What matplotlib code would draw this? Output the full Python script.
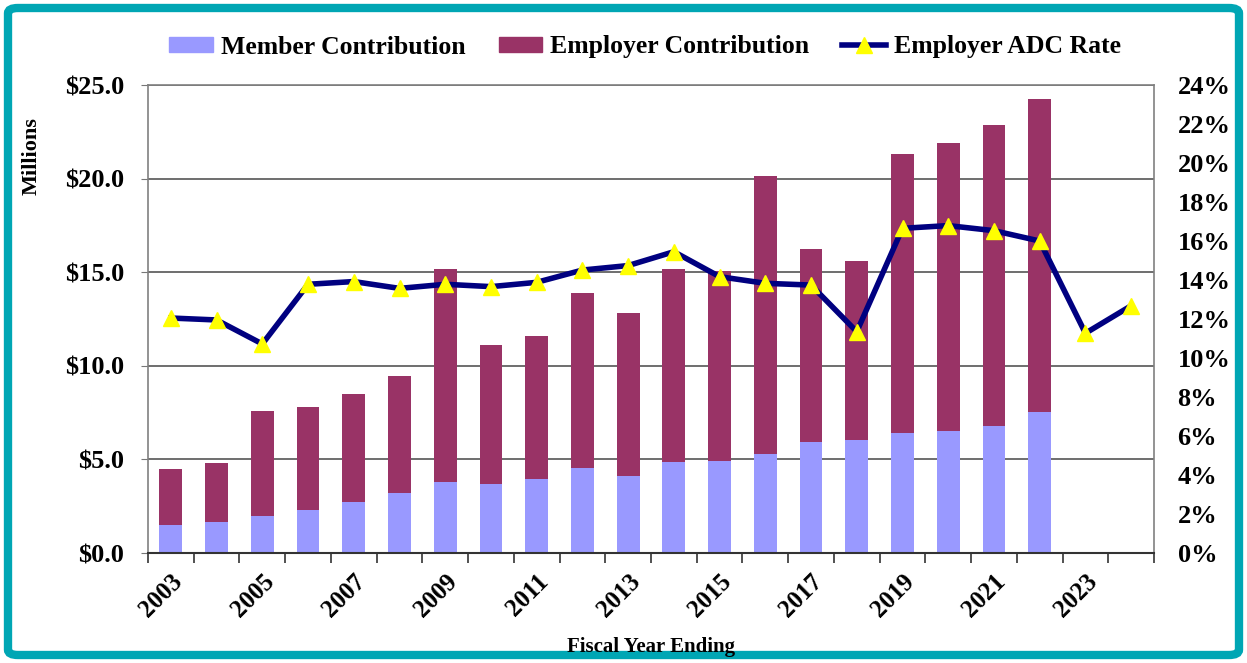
import matplotlib.pyplot as plt
import matplotlib.patches as mpatches
from matplotlib.lines import Line2D
from matplotlib.patches import FancyBboxPatch
from matplotlib.ticker import FixedLocator, FuncFormatter
import numpy as np

# data
years = list(range(2003, 2025))
member = [1.50, 1.66, 1.96, 2.30, 2.74, 3.22, 3.81, 3.69, 3.94, 4.52, 4.11,
          4.86, 4.91, 5.29, 5.91, 6.02, 6.41, 6.52, 6.78, 7.53, None, None]
total = [4.49, 4.82, 7.59, 7.80, 8.49, 9.46, 15.17, 11.11, 11.59, 13.89, 12.82,
         15.17, 15.06, 20.14, 16.24, 15.60, 21.30, 21.90, 22.88, 24.24, None, None]
adc_rate = [12.05, 11.95, 10.72, 13.78, 13.92, 13.57, 13.78, 13.66, 13.88, 14.51, 14.74,
            15.45, 14.17, 13.83, 13.74, 11.35, 16.65, 16.79, 16.53, 16.00, 11.27, 12.68]

member_c = '#9999FF'
employer_c = '#993366'
line_c = '#000080'
teal = '#00A6B4'

plt.rcParams['font.family'] = ['Liberation Serif', 'DejaVu Serif']
plt.rcParams['font.weight'] = 'bold'

fig = plt.figure(figsize=(12.47, 6.63), dpi=100)
ax = fig.add_axes([148 / 1247, 1 - 553 / 663, (1154 - 148) / 1247, (553 - 85) / 663])

x = np.arange(len(years))
bar_idx = [i for i in x if member[i] is not None]
mem = np.array([member[i] for i in bar_idx])
emp = np.array([total[i] - member[i] for i in bar_idx])

ax.bar(bar_idx, mem, width=0.5, color=member_c, zorder=2)
ax.bar(bar_idx, emp, width=0.5, bottom=mem, color=employer_c, zorder=2)

ax.set_xlim(-0.5, len(years) - 0.5)
ax.set_ylim(0, 25)
ax.set_yticks(np.arange(0, 25.1, 5))
ax.yaxis.set_major_formatter(FuncFormatter(lambda v, p: f'${v:.1f}'))
ax.grid(axis='y', color='#555555', linewidth=1.2, zorder=0)
ax.set_axisbelow(True)

ax.xaxis.set_major_locator(FixedLocator(x[::2]))
ax.set_xticklabels([str(y) for y in years[::2]], rotation=45, ha='right',
                   rotation_mode='anchor', fontsize=18, fontweight='bold')
ax.xaxis.set_minor_locator(FixedLocator(np.arange(-0.5, len(years), 1)))
ax.tick_params(axis='x', which='major', length=0, pad=12)
ax.tick_params(axis='x', which='minor', length=7, width=1.2, color='#333333')
ax.tick_params(axis='y', labelsize=19, length=5, color='#777777', pad=12)
for lab in ax.get_yticklabels():
    lab.set_fontweight('bold')

for s in ['top', 'left', 'right']:
    ax.spines[s].set_color('#808080')
    ax.spines[s].set_linewidth(1.2)
ax.spines['bottom'].set_color('#333333')
ax.spines['bottom'].set_linewidth(1.5)

fig.text(32 / 1247, 1 - 156 / 663, 'Millions', rotation=90, ha='center', va='center',
         fontsize=16, fontweight='bold')
fig.text(651 / 1247, 1 - 647 / 663, 'Fiscal Year Ending', ha='center', va='center',
         fontsize=15, fontweight='bold')

ax2 = ax.twinx()
ax2.plot(x, adc_rate, color=line_c, linewidth=4, marker='^', markersize=11,
         markerfacecolor='#FFFF00', markeredgecolor='#FFFF00', zorder=3)
ax2.set_ylim(0, 24)
ax2.set_yticks(np.arange(0, 24.1, 2))
ax2.yaxis.set_major_formatter(FuncFormatter(lambda v, p: f'{v:.0f}%'))
ax2.tick_params(axis='y', labelsize=19, length=0, pad=17)
for lab in ax2.get_yticklabels():
    lab.set_fontweight('bold')
for s in ax2.spines.values():
    s.set_visible(False)

handles = [mpatches.Patch(color=member_c, label='Member Contribution'),
           mpatches.Patch(color=employer_c, label='Employer Contribution'),
           Line2D([0], [0], color=line_c, linewidth=4, marker='^', markersize=11,
                  markerfacecolor='#FFFF00', markeredgecolor='#FFFF00',
                  label='Employer ADC Rate')]
fig.legend(handles=handles, loc='center', bbox_to_anchor=(645 / 1247, 1 - 47 / 663),
           ncol=3, frameon=False, handlelength=1.7, handleheight=0.55,
           columnspacing=1.3, handletextpad=0.3, prop={'weight': 'bold', 'size': 18.5})

border = FancyBboxPatch((8 / 1247, 8 / 663), 1 - 16 / 1247, 1 - 16 / 663,
                        boxstyle='round,pad=0,rounding_size=0.008',
                        transform=fig.transFigure, fill=False,
                        edgecolor=teal, linewidth=6)
fig.patches.append(border)

fig.savefig('out.png', dpi=100)
